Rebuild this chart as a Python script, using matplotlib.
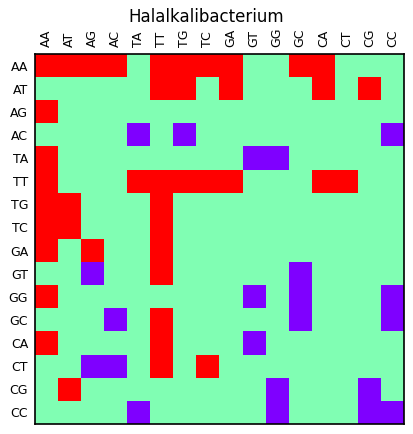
import matplotlib
matplotlib.use("Agg")
import matplotlib.pyplot as plt
import numpy as np

LABELS = ["AA", "AT", "AG", "AC", "TA", "TT", "TG", "TC",
          "GA", "GT", "GG", "GC", "CA", "CT", "CG", "CC"]

# 1 = over-represented (red), 0 = neutral, -1 = under-represented (purple)
ROWS = [
    [1, 1, 1, 1, 0, 1, 1, 1, 1, 0, 0, 1, 1, 0, 0, 0],
    [0, 0, 0, 0, 0, 1, 1, 0, 1, 0, 0, 0, 1, 0, 1, 0],
    [1, 0, 0, 0, 0, 0, 0, 0, 0, 0, 0, 0, 0, 0, 0, 0],
    [0, 0, 0, 0, -1, 0, -1, 0, 0, 0, 0, 0, 0, 0, 0, -1],
    [1, 0, 0, 0, 0, 0, 0, 0, 0, -1, -1, 0, 0, 0, 0, 0],
    [1, 0, 0, 0, 1, 1, 1, 1, 1, 0, 0, 0, 1, 1, 0, 0],
    [1, 1, 0, 0, 0, 1, 0, 0, 0, 0, 0, 0, 0, 0, 0, 0],
    [1, 1, 0, 0, 0, 1, 0, 0, 0, 0, 0, 0, 0, 0, 0, 0],
    [1, 0, 1, 0, 0, 1, 0, 0, 0, 0, 0, 0, 0, 0, 0, 0],
    [0, 0, -1, 0, 0, 1, 0, 0, 0, 0, 0, -1, 0, 0, 0, 0],
    [1, 0, 0, 0, 0, 0, 0, 0, 0, -1, 0, -1, 0, 0, 0, -1],
    [0, 0, 0, -1, 0, 1, 0, 0, 0, 0, 0, -1, 0, 0, 0, -1],
    [1, 0, 0, 0, 0, 1, 0, 0, 0, -1, 0, 0, 0, 0, 0, 0],
    [0, 0, -1, -1, 0, 1, 0, 1, 0, 0, 0, 0, 0, 0, 0, 0],
    [0, 1, 0, 0, 0, 0, 0, 0, 0, 0, -1, 0, 0, 0, -1, 0],
    [0, 0, 0, 0, -1, 0, 0, 0, 0, 0, -1, 0, 0, 0, -1, -1],
]

grid = np.array(ROWS)

fig = plt.figure(figsize=(4.13, 4.34), dpi=100)
ax = fig.add_axes([35 / 413, 1 - 424 / 434, 369 / 413, 370 / 434])
ax.imshow(grid, cmap="rainbow", vmin=-1, vmax=1, interpolation="nearest", aspect="auto")

ticks = np.arange(len(LABELS))
ax.set_xticks(ticks)
ax.set_yticks(ticks)
ax.set_xticklabels(LABELS, rotation=90, fontsize=9)
ax.set_yticklabels(LABELS, fontsize=9)
ax.xaxis.tick_top()
ax.tick_params(axis="x", length=0, top=True, bottom=False, pad=5)
ax.tick_params(axis="y", length=0, pad=5)
for spine in ax.spines.values():
    spine.set_linewidth(1.2)

fig.text(0.5, 1 - 17 / 434, "Halalkalibacterium", ha="center", va="center", fontsize=12)

fig.savefig("out.png", dpi=100)
